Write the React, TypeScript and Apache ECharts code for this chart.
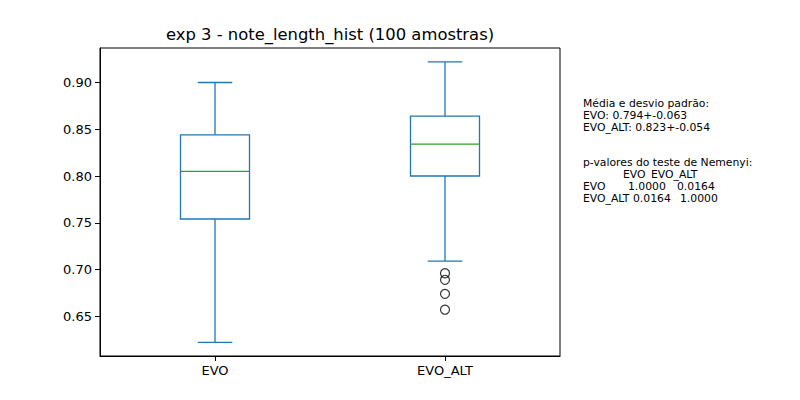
import React, { useEffect, useRef } from "react";
import * as echarts from "echarts";

const categories = ["EVO", "EVO_ALT"];
const lowWhisker = [0.622, 0.709];
const q1 = [0.754, 0.8];
const median = [0.805, 0.834];
const q3 = [0.844, 0.864];
const highWhisker = [0.9, 0.922];
const outlierCategory = [1, 1, 1, 1];
const outlierValues = [0.696, 0.689, 0.674, 0.657];
const yTicks = [0.65, 0.7, 0.75, 0.8, 0.85, 0.9];

const titleText = "exp 3 - note_length_hist (100 amostras)";
const statsLines = ["Média e desvio padrão:", "EVO: 0.794+-0.063", "EVO_ALT: 0.823+-0.054"];

const FONT = "DejaVu Sans";
const BLUE = "#1f77b4";
const GREEN = "#2ca02c";

export default function App() {
  const ref = useRef<HTMLDivElement>(null);
  useEffect(() => {
    if (!ref.current) return;
    const chart = echarts.init(ref.current, null, { renderer: "svg" });
    const boxData = categories.map((_, i) => [i, lowWhisker[i], q1[i], median[i], q3[i], highWhisker[i]]);
    const outData = outlierValues.map((v, i) => [outlierCategory[i], v]);
    const txt = (x: number, y: number, s: string) => ({
      type: "text",
      x,
      y,
      style: { text: s, fontFamily: FONT, fontSize: 10.8, fill: "#000", textVerticalAlign: "middle" },
    });
    chart.setOption({
      animation: false,
      backgroundColor: "#fff",
      grid: { left: 100, top: 48, right: 240, bottom: 44, show: true, borderColor: "#000", borderWidth: 1, backgroundColor: "transparent" },
      xAxis: {
        type: "category",
        data: categories,
        boundaryGap: true,
        axisLine: { show: true, lineStyle: { color: "#000", width: 1 } },
        axisTick: { show: true, alignWithLabel: true, length: 5, inside: false, lineStyle: { color: "#000" } },
        axisLabel: { color: "#000", fontFamily: FONT, fontSize: 13, margin: 8 },
        splitLine: { show: false },
      },
      yAxis: {
        type: "value",
        min: 0.6075,
        max: 0.9369,
        axisLine: { show: true, lineStyle: { color: "#000", width: 1 } },
        axisTick: { show: true, length: 5, lineStyle: { color: "#000" }, customValues: yTicks },
        axisLabel: {
          color: "#000",
          fontFamily: FONT,
          fontSize: 13,
          margin: 8,
          customValues: yTicks,
          formatter: (v: number) => v.toFixed(2),
        },
        splitLine: { show: false },
      },
      graphic: [
        {
          type: "text",
          x: 330,
          y: 34,
          style: { text: titleText, fontFamily: FONT, fontSize: 16.4, fill: "#000", textAlign: "center", textVerticalAlign: "middle" },
        },
        txt(583, 103, statsLines[0]),
        txt(583, 115, statsLines[1]),
        txt(583, 127, statsLines[2]),
        txt(583, 162, "p-valores do teste de Nemenyi:"),
        txt(623, 174, "EVO"),
        txt(651, 174, "EVO_ALT"),
        txt(583, 186, "EVO"),
        txt(628, 186, "1.0000"),
        txt(677, 186, "0.0164"),
        txt(583, 198, "EVO_ALT"),
        txt(633, 198, "0.0164"),
        txt(680, 198, "1.0000"),
      ],
      series: [
        {
          type: "custom",
          data: boxData,
          encode: { x: 0, y: [1, 2, 3, 4, 5] },
          renderItem: (params: any, api: any) => {
            const c = api.value(0);
            const pLow = api.coord([c, api.value(1)]);
            const pQ1 = api.coord([c, api.value(2)]);
            const pMed = api.coord([c, api.value(3)]);
            const pQ3 = api.coord([c, api.value(4)]);
            const pHigh = api.coord([c, api.value(5)]);
            const band = api.size([1, 0])[0];
            const bw = band * 0.3;
            const cw = bw / 2;
            const cx = pLow[0];
            const ls = { stroke: BLUE, lineWidth: 1.3, fill: "none" };
            return {
              type: "group",
              children: [
                { type: "rect", shape: { x: cx - bw / 2, y: pQ3[1], width: bw, height: pQ1[1] - pQ3[1] }, style: ls },
                { type: "line", shape: { x1: cx, y1: pQ1[1], x2: cx, y2: pLow[1] }, style: ls },
                { type: "line", shape: { x1: cx, y1: pQ3[1], x2: cx, y2: pHigh[1] }, style: ls },
                { type: "line", shape: { x1: cx - cw / 2, y1: pLow[1], x2: cx + cw / 2, y2: pLow[1] }, style: ls },
                { type: "line", shape: { x1: cx - cw / 2, y1: pHigh[1], x2: cx + cw / 2, y2: pHigh[1] }, style: ls },
                { type: "line", shape: { x1: cx - bw / 2, y1: pMed[1], x2: cx + bw / 2, y2: pMed[1] }, style: { stroke: GREEN, lineWidth: 1.3 } },
              ],
            };
          },
        },
        {
          type: "scatter",
          data: outData,
          symbol: "circle",
          symbolSize: 9,
          itemStyle: { color: "rgba(0,0,0,0)", borderColor: "#000", borderWidth: 1.2 },
        },
      ],
    });
    return () => chart.dispose();
  }, []);
  return <div ref={ref} style={{ position: "absolute", left: 0, top: 0, width: 800, height: 400 }} />;
}
